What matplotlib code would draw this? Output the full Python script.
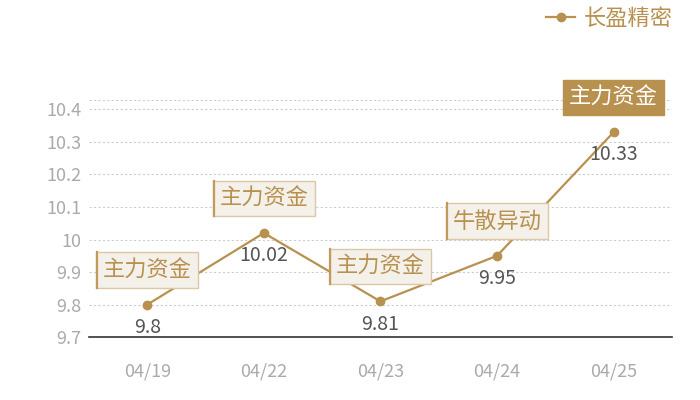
import matplotlib
matplotlib.use("Agg")
import matplotlib.pyplot as plt
from matplotlib.lines import Line2D

plt.rcParams['font.family'] = ['Noto Sans CJK SC', 'DejaVu Sans']

dates = ["04/19", "04/22", "04/23", "04/24", "04/25"]
prices = [9.8, 10.02, 9.81, 9.95, 10.33]
tags = ["主力资金", "主力资金", "主力资金", "牛散异动", "主力资金"]
highlight = [False, False, False, False, True]
series_name = "长盈精密"
yticks = [9.7, 9.8, 9.9, 10.0, 10.1, 10.2, 10.3, 10.4]
yticklabels = ["9.7", "9.8", "9.9", "10", "10.1", "10.2", "10.3", "10.4"]

gold = "#b8914f"
fig = plt.figure(figsize=(7, 4), dpi=100)
ax = fig.add_axes([0.127, 0.157, 0.833, 0.593])

x = list(range(len(dates)))
ax.plot(x, prices, color=gold, lw=1.6, marker='o', ms=6, zorder=3, label=series_name)

ax.set_xlim(-0.5, len(dates) - 0.5)
ax.set_ylim(9.7, 10.4285)
ax.set_yticks(yticks)
ax.set_yticklabels(yticklabels)
ax.set_xticks(x)
ax.set_xticklabels(dates)
ax.tick_params(axis='both', length=0, labelsize=13, labelcolor='#aaaaaa')
ax.tick_params(axis='x', pad=18)
ax.tick_params(axis='y', pad=5.5)

for s in ['left', 'right', 'top']:
    ax.spines[s].set_visible(False)
ax.spines['bottom'].set_color('#333333')
ax.spines['bottom'].set_linewidth(1.2)

for yv in yticks[1:] + [10.4285]:
    ax.axhline(yv, color='#cccccc', lw=0.8, ls=(0, (2, 2)), zorder=1)

boxes = []
for xi, p, t, h in zip(x, prices, tags, highlight):
    ax.annotate(f"{p:g}", (xi, p), xytext=(0, -16.5), textcoords='offset points',
                ha='center', va='center', fontsize=14, color='#555555', zorder=4)
    if h:
        bb = dict(boxstyle='square,pad=0.28', fc=gold, ec=gold, lw=1)
        tc = 'white'
    else:
        bb = dict(boxstyle='square,pad=0.28', fc='#f4f0ea', ec='#dcc7a6', lw=1)
        tc = gold
    a = ax.annotate(t, (xi, p), xytext=(0, 25), textcoords='offset points',
                    ha='center', va='center', fontsize=16, color=tc, bbox=bb, zorder=5)
    boxes.append((a, h))

leg = ax.legend(loc='center right', bbox_to_anchor=(0.99, 0.955), bbox_transform=fig.transFigure,
                frameon=False, fontsize=16, handlelength=1.3, handletextpad=0.4,
                labelcolor=gold, markerscale=1.0)

# darker left edge on the light tag boxes
fig.canvas.draw()
r = fig.canvas.get_renderer()
for a, h in boxes:
    if h:
        continue
    ext = a.get_bbox_patch().get_window_extent(r)
    fig.add_artist(Line2D([ext.x0 + 0.5, ext.x0 + 0.5], [ext.y0, ext.y1], transform=None,
                          color='#c49a5c', lw=1.6, zorder=6))

fig.savefig("out.png", dpi=100)
